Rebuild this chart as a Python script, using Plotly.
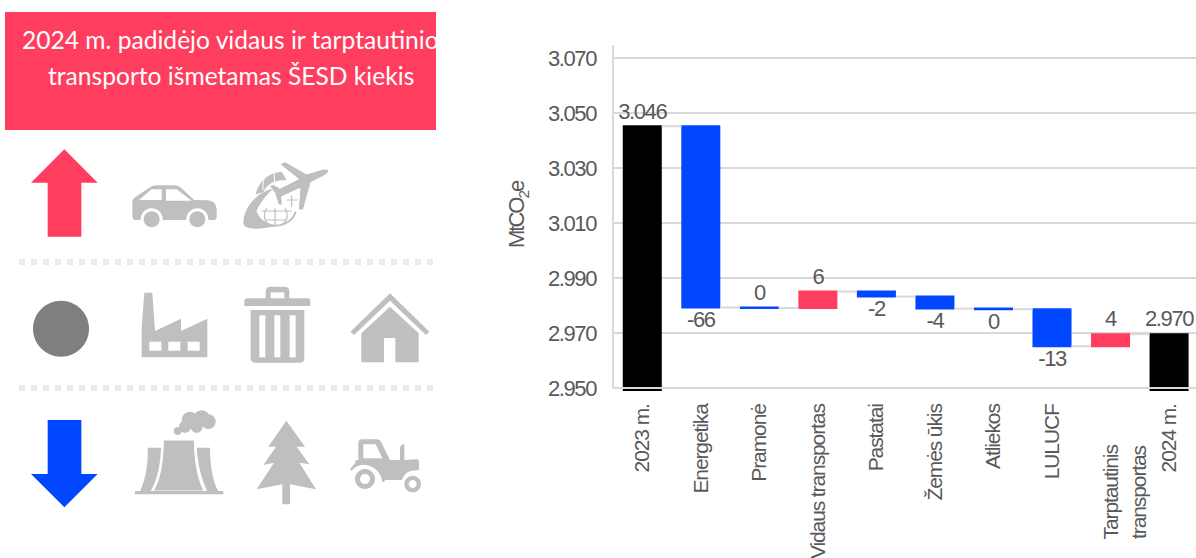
import re
import plotly.graph_objects as go

# ---------- data ----------
categories = ["2023 m.", "Energetika", "Pramonė", "Vidaus transportas", "Pastatai",
              "Žemės ūkis", "Atliekos", "LULUCF", "Tarptautinis transportas", "2024 m."]
tick_vals = ["2023 m.", "Energetika", "Pramonė", "Vidaus transportas", "Pastatai",
             "Žemės ūkis", "Atliekos", "LULUCF", "2024 m."]
measures = ["absolute"] + ["relative"] * 8 + ["total"]
values = [3045.3, -66, -0.2, 6, -1.8, -4.4, -0.2, -13.5, 4.4, 0]
value_labels = ["3.046", "-66", "0", "6", "-2", "-4", "0", "-13", "4", "2.970"]
label_sides = ["top", "bottom", "top", "top", "bottom", "bottom", "bottom", "bottom", "top", "top"]
y_ticks = [2950, 2970, 2990, 3010, 3030, 3050, 3070]

PINK = "#FF3D5E"
BLUE = "#0047FF"
ICON = "#BFBFBF"
GRID = "#D9D9D9"
TEXT = "#595959"
W, H = 1196, 558
L, R, T, B = 613, 0, 45, 167
PW, PH = W - L - R, H - T - B


def px(x):
    return (x - L) / PW


def py(y):
    return 1 - (y - T) / PH


def tr(d, ox, oy):
    """Turn a path written in 3x zoom pixels into paper coordinates."""
    out, pair = [], []
    for tok in re.findall(r"[A-Za-z]|-?\d+\.?\d*", d):
        if tok.isalpha():
            out.append(tok)
        else:
            pair.append(float(tok))
            if len(pair) == 2:
                out.append(f"{px(ox + pair[0] / 3):.5f},{py(oy + pair[1] / 3):.5f}")
                pair = []
    return " ".join(out)


def circ(cx, cy, r):
    k = 0.5523 * r
    return (f"M {cx-r},{cy} C {cx-r},{cy-k} {cx-k},{cy-r} {cx},{cy-r} "
            f"C {cx+k},{cy-r} {cx+r},{cy-k} {cx+r},{cy} "
            f"C {cx+r},{cy+k} {cx+k},{cy+r} {cx},{cy+r} "
            f"C {cx-k},{cy+r} {cx-r},{cy+k} {cx-r},{cy} Z")


def rect(x0, y0, x1, y1):
    return f"M {x0},{y0} L {x1},{y0} L {x1},{y1} L {x0},{y1} Z"


shapes = []


def add(d, ox, oy, color=ICON, lw=0, lc=None):
    shapes.append(dict(type="path", xref="paper", yref="paper", layer="below",
                       path=tr(d, ox, oy), fillcolor=color,
                       line=dict(width=lw, color=lc or color)))


# header box
shapes.append(dict(type="rect", xref="paper", yref="paper", layer="below",
                   x0=px(5), x1=px(436), y0=py(12), y1=py(130),
                   fillcolor=PINK, line=dict(width=0)))
# separators
for yy in (262, 388):
    shapes.append(dict(type="line", xref="paper", yref="paper", layer="below",
                       x0=px(19), x1=px(434), y0=py(yy), y1=py(yy),
                       line=dict(color="#EBEBEB", width=6, dash="6px,6px")))
# arrows + circle
add("M 193,448 L 293,548 L 244,548 L 244,710 L 143,710 L 143,548 L 93,548 Z", 0, 0, PINK)
add("M 143,450 L 244,450 L 244,612 L 293,612 L 193,712 L 93,612 L 143,612 Z", 0, 270, BLUE)
add(circ(183, 176, 84), 0, 270, "#7F7F7F")

# car
add("M 397,645 L 397,605 Q 397,597 405,592 L 450,562 Q 458,556 470,556 L 520,556 Q 535,556 545,565 "
    "L 582,600 L 625,601 Q 650,605 650,630 L 650,650 Q 650,660 640,660 L 405,660 Q 397,660 397,645 Z", 0, 0)
add("M 417,600 L 455,568 L 485,568 L 485,600 Z", 0, 0, "white")
add("M 498,568 L 530,568 L 575,602 L 498,602 Z", 0, 0, "white")
for c in (455, 592):
    add(circ(c, 658, 33), 0, 0, "white")
    add(circ(c, 658, 24), 0, 0)

# globe + plane
GX, GY = 235, 155
add("M 62,118 C 70,80 100,52 140,50 L 155,75 C 115,75 95,88 85,112 Z", GX, GY)
add("M 118,52 L 118,100 M 92,60 C 85,75 82,90 84,105", GX, GY, "rgba(0,0,0,0)", 1, "white")
add("M 60,165 C 70,200 100,212 120,212 C 150,212 175,195 182,170", GX, GY, "rgba(0,0,0,0)", 2, ICON)
add("M 120,160 L 120,212 M 95,160 C 85,175 85,195 100,208 M 150,160 C 160,175 160,195 142,208 "
    "M 80,168 L 170,168 M 90,195 L 155,195", GX, GY, "rgba(0,0,0,0)", 1.2, ICON)
add("M 25,205 C 25,160 60,115 115,100 C 90,125 70,150 62,175 C 70,195 95,205 125,212 "
    "C 85,222 28,228 25,205 Z", GX, GY)
add("M 170,122 L 170,155 M 155,135 L 188,135", GX, GY, "rgba(0,0,0,0)", 1.2, ICON)
add("M 280,45 C 285,50 275,58 262,65 L 228,82 L 205,165 L 190,165 L 195,100 L 140,125 L 142,150 "
    "L 130,150 L 120,115 L 103,92 L 115,88 L 135,100 L 190,72 L 135,28 L 150,20 L 215,57 L 262,43 "
    "C 270,41 277,42 280,45 Z", GX, GY, ICON, 1, "white")

# factory
add("M 433,68 L 457,68 L 465,183 L 543,146 L 543,183 L 622,146 L 622,262 L 425,262 L 425,175 Z", 0, 270)
for x0 in (448, 505, 563):
    add(rect(x0, 215, x0 + 36, 242), 0, 270, "white")

# bin
add("M 797,85 L 797,65 Q 797,50 812,50 L 853,50 Q 868,50 868,65 L 868,85 L 925,85 Q 931,85 931,95 "
    "L 931,108 L 733,108 L 733,95 Q 733,85 742,85 Z", 0, 270)
add(rect(812, 67, 853, 85), 0, 270, "white")
add("M 752,120 L 913,120 L 913,265 Q 913,278 900,278 L 765,278 Q 752,278 752,265 Z", 0, 270)
for x0 in (778, 823, 869):
    add(rect(x0, 136, x0 + 18, 262), 0, 270, "white")

# house
add("M 1170,70 L 1288,185 L 1278,195 L 1170,92 L 1062,195 L 1051,185 Z", 0, 270)
add("M 1170,110 L 1256,190 L 1256,277 L 1186,277 L 1186,204 L 1152,204 L 1152,277 L 1084,277 L 1084,190 Z", 0, 270)

# power plant
TX, TY = 130, 405
add("M 53,128 L 93,128 C 92,175 82,225 62,258 L 30,258 C 45,230 55,180 53,128 Z", TX, TY)
add("M 200,128 L 240,128 C 240,180 248,230 265,258 L 232,258 C 215,225 203,175 200,128 Z", TX, TY)
add("M 100,105 L 193,105 C 193,170 205,225 222,258 L 70,258 C 90,225 100,170 100,105 Z", TX, TY, ICON, 1, "white")
add(rect(15, 258, 280, 268), TX, TY)
for cx, cy, r in [(143, 78, 12), (165, 65, 18), (180, 45, 25), (215, 40, 24), (235, 50, 22), (200, 65, 18)]:
    add(circ(cx, cy, r), TX, TY)

# tree
add("M 859,452 L 915,530 L 890,530 L 928,583 L 898,578 L 948,658 L 870,643 L 870,703 L 847,703 "
    "L 847,643 L 770,658 L 822,578 L 790,585 L 828,530 L 805,530 Z", 0, 270)

# tractor
AX, AY = 345, 430
add("M 32,90 L 40,90 L 40,40 Q 40,28 52,28 L 95,28 Q 105,28 110,40 L 135,90 L 165,90 L 165,55 "
    "Q 165,45 178,42 L 178,90 L 215,88 Q 222,88 222,95 L 222,120 L 200,122 Q 180,125 170,150 "
    "L 120,150 Q 118,158 112,155 Q 105,115 65,105 Q 40,100 20,122 L 15,118 L 30,100 Z", AX, AY)
add("M 55,43 L 92,43 L 112,85 L 55,85 Z", AX, AY, "white")
add(circ(60, 147, 30), AX, AY)
add(circ(60, 147, 15), AX, AY, "white")
add(circ(203, 162, 25), AX, AY)
add(circ(203, 162, 12), AX, AY, "white")

# axis lines on top of the bars
shapes.append(dict(type="line", xref="paper", yref="y", layer="above", x0=0, x1=1,
                   y0=y_ticks[0], y1=y_ticks[0], line=dict(color=GRID, width=2)))
shapes.append(dict(type="line", xref="paper", yref="y", layer="above", x0=0, x1=0,
                   y0=y_ticks[0], y1=3074.9, line=dict(color=GRID, width=2)))

# ---------- traces ----------
fig = go.Figure()
fig.add_trace(go.Waterfall(
    x=categories, y=values, measure=measures, orientation="v",
    increasing=dict(marker=dict(color=PINK)),
    decreasing=dict(marker=dict(color=BLUE)),
    totals=dict(marker=dict(color="black")),
    connector=dict(mode="between", line=dict(color=GRID, width=2)),
    hoverinfo="skip",
))

# running levels for the value labels
tops, bottoms, level = [], [], 0
for m, v in zip(measures, values):
    if m == "absolute":
        tops.append(v); bottoms.append(v); level = v
    elif m == "total":
        tops.append(level); bottoms.append(level)
    else:
        tops.append(max(level, level + v)); bottoms.append(min(level, level + v)); level += v
label_y = [t + 0.8 if s == "top" else b - 1.2 for t, b, s in zip(tops, bottoms, label_sides)]
fig.add_trace(go.Scatter(
    x=categories, y=label_y, mode="text", text=value_labels,
    textposition=[s + " center" for s in label_sides],
    textfont=dict(family="Liberation Sans", size=22, color=TEXT),
    hoverinfo="skip", cliponaxis=False,
))

HEAD = dict(family="Lato", size=24.6, color="white")
ann = [
    dict(text="2024 m. padidėjo vidaus ir tarptautinio", x=px(20), y=py(40), xref="paper", yref="paper",
         xanchor="left", yanchor="middle", width=416, align="left", showarrow=False, font=HEAD),
    dict(text="transporto išmetamas ŠESD kiekis", x=px(231), y=py(75), xref="paper", yref="paper",
         xanchor="center", yanchor="middle", showarrow=False, font=HEAD),
]
XF = dict(family="Liberation Sans", size=21, color=TEXT)
for xx, word in [(1110, "Tarptautinis"), (1138, "transportas")]:
    ann.append(dict(text=word, x=px(xx), y=py(493), xref="paper", yref="paper", xanchor="center",
                    yanchor="middle", textangle=-90, showarrow=False, font=XF))
ann.append(dict(text="MtCO<sub>2</sub>e", x=px(518), y=py(215), xref="paper", yref="paper", xanchor="center",
                yanchor="middle", textangle=-90, showarrow=False,
                font=dict(family="Liberation Sans", size=22, color=TEXT)))

fig.update_layout(
    width=W, height=H, margin=dict(l=L, r=R, t=T, b=B, pad=0),
    paper_bgcolor="white", plot_bgcolor="white", showlegend=False,
    separators=",.", waterfallgap=0.333,
    shapes=shapes, annotations=ann,
    xaxis=dict(type="category", categoryorder="array", categoryarray=categories,
               range=[-0.5, 9.46], tickmode="array", tickvals=tick_vals,
               tickangle=-90, ticks="", showgrid=False, showline=False,
               zeroline=False, tickfont=XF, ticklabelstandoff=8, automargin=False, fixedrange=True),
    yaxis=dict(range=[2948.9, 3074.9], tickmode="array", tickvals=y_ticks, tickformat=",d",
               ticks="", gridcolor=GRID, gridwidth=2, showline=False, zeroline=False,
               tickfont=dict(family="Liberation Sans", size=22, color=TEXT), ticklabelstandoff=16,
               automargin=False, fixedrange=True),
)

css = """
var s=document.createElement('style');
s.textContent='body{margin:0;overflow:hidden}'
 +'.xtick text,.annotation[data-index="2"] text,.annotation[data-index="3"] text{letter-spacing:-1.1px}'
 +'.ytick text,.textpoint text{letter-spacing:-1.4px}'
 +'.annotation[data-index="4"] text{letter-spacing:-2px}';
document.head.appendChild(s);
"""
fig.write_html("out.html", post_script=css, config=dict(displayModeBar=False))
